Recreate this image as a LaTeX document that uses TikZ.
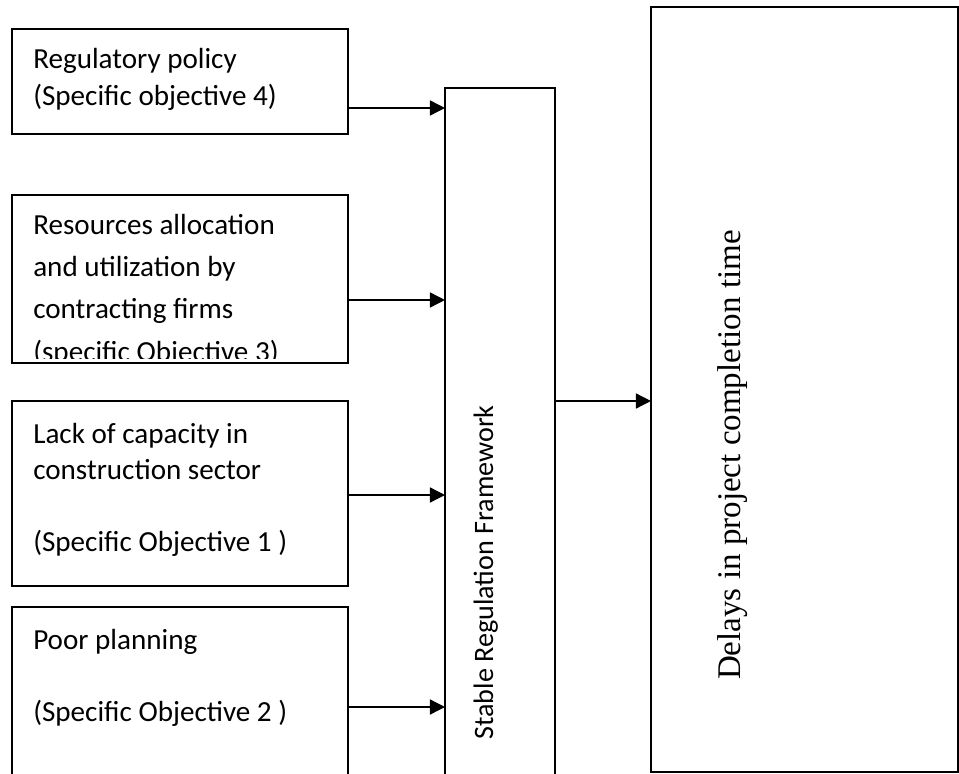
\documentclass[tikz,border=0pt]{standalone}
\usepackage{fontspec}
\setmainfont{Liberation Serif}
\setsansfont{Carlito}
\usetikzlibrary{arrows.meta}
\newcommand\lblfont[1]{\sffamily\fontsize{20.7}{#1}\selectfont}
\tikzset{
  box/.style={draw, line width=1.2pt, inner sep=0pt, outer sep=0pt},
  lbl/.style={font=\lblfont{25.6}, align=left, anchor=base west, inner sep=0pt},
  arr/.style={line width=1pt, -{Triangle[length=10.7pt,width=10.7pt]}},
}
\begin{document}
\begin{tikzpicture}[x=0.025cm, y=-0.025cm]
\useasboundingbox (0,0) rectangle (959,774);
\clip (0,0) rectangle (959,774);

% Factor boxes
\node[box, minimum width=8.4cm, minimum height=2.625cm] (b1) at (180,81.5) {};
\node[box, minimum width=8.4cm, minimum height=4.2cm] (b2) at (180,279) {};
\node[box, minimum width=8.4cm, minimum height=4.625cm] (b3) at (180,493.5) {};
\node[box, minimum width=8.4cm, minimum height=5.325cm] (b4) at (180,713.5) {};

% Framework and outcome boxes
\node[box, minimum width=2.75cm, minimum height=18.3cm] (frame) at (500,454) {};
\node[box, minimum width=7.675cm, minimum height=19.125cm] (delays) at (804.5,389.5) {};

% Box texts (placed at the baseline of their last line)
\node[lbl, font=\lblfont{27}] (t1) at (33,106) {Regulatory policy\\(Specific objective 4)};
\begin{scope}
  \clip (b2.north west) rectangle ([yshift=3.5pt]b2.south east);
  \node[lbl, font=\lblfont{29.9}] (t2) at (33,361) {Resources allocation\\and utilization by\\contracting firms\\(specific Objective 3)};
\end{scope}
\node[lbl] (t3) at (33,551) {Lack of capacity in\\construction sector\\[25.6pt](Specific Objective 1 )};
\node[lbl] (t4) at (33,721) {Poor planning\\[25.6pt](Specific Objective 2 )};

\node[font=\sffamily\fontsize{20}{24}\selectfont, rotate=90, anchor=base east, inner sep=0pt] (srf) at (493,405) {Stable Regulation Framework};
\node[font=\fontsize{23.5}{28}\selectfont, rotate=90, anchor=base east, inner sep=0pt] (dpct) at (740,230) {Delays in project completion time};

% Arrows
\foreach \src/\lev in {b1/108, b2/300, b3/495, b4/707} {
  \coordinate (lev) at (0,\lev);
  \draw[arr] (\src.east |- lev) -- (frame.west |- lev);
}
\coordinate (levout) at (0,401);
\draw[arr] (frame.east |- levout) -- (delays.west |- levout);
\end{tikzpicture}
\end{document}
